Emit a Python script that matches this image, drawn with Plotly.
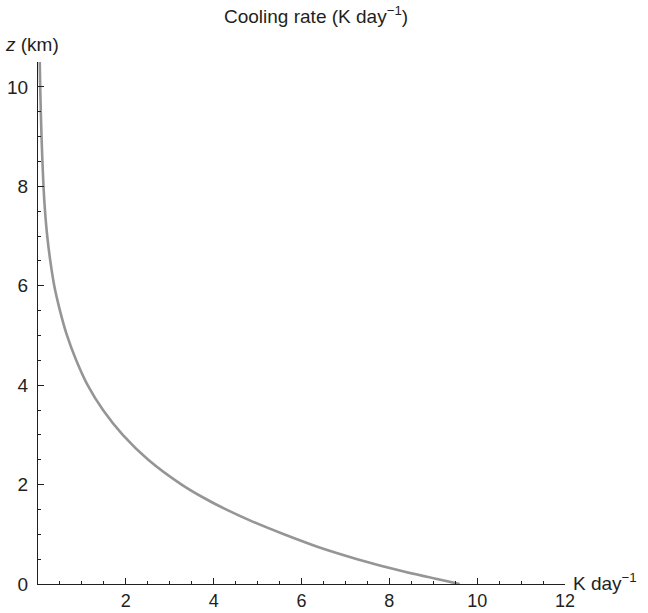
import plotly.graph_objects as go

# Data
height_km = [0, 0.25, 0.5, 0.75, 1.0, 1.25, 1.5, 1.75, 2.0, 2.5, 3.0, 3.5, 4.0,
             4.5, 5.0, 5.5, 6.0, 6.5, 7.0, 7.5, 8.0, 9.0, 10.0, 10.5]
cooling_rate = [9.6, 8.33, 7.27, 6.36, 5.6, 4.9, 4.28, 3.74, 3.27, 2.51, 1.93, 1.48, 1.13,
                0.87, 0.66, 0.5, 0.37, 0.28, 0.21, 0.16, 0.125, 0.08, 0.05, 0.04]
x_ticks = [2, 4, 6, 8, 10, 12]
y_ticks = [0, 2, 4, 6, 8, 10]

FONT = "Liberation Sans, Arial, Helvetica, sans-serif"
INK = "#231f20"

fig = go.Figure()
fig.add_trace(go.Scatter(
    x=cooling_rate, y=height_km, mode="lines",
    line=dict(color="#959595", width=2.6, shape="spline", smoothing=0.8),
    showlegend=False, hoverinfo="skip",
))

fig.update_layout(
    width=648, height=613,
    margin=dict(l=38, r=83, t=62, b=29, autoexpand=False),
    paper_bgcolor="white", plot_bgcolor="white",
    font=dict(family=FONT, size=19, color=INK),
    xaxis=dict(
        range=[0, 12], tickvals=x_ticks, ticks="inside", ticklen=6, tickwidth=1.2,
        tickcolor=INK, showline=True, linecolor=INK, linewidth=1.3,
        showgrid=False, zeroline=False, automargin=False,
        minor=dict(dtick=0.5, tick0=0, ticks="inside", ticklen=3, tickwidth=1,
                   tickcolor=INK, showgrid=False),
        tickfont=dict(size=18), ticklabelstandoff=0,
    ),
    yaxis=dict(
        range=[0, 10.5], tickvals=y_ticks, ticks="inside", ticklen=6, tickwidth=1.2,
        tickcolor=INK, showline=True, linecolor=INK, linewidth=1.3,
        showgrid=False, zeroline=False, automargin=False,
        minor=dict(dtick=0.5, tick0=0, ticks="inside", ticklen=3, tickwidth=1,
                   tickcolor=INK, showgrid=False),
        tickfont=dict(size=19), ticklabelstandoff=5,
    ),
    annotations=[
        dict(text="Cooling rate (K day<sup>−1</sup>)", xref="paper", yref="paper",
             x=0.528, y=1.0, yshift=62 - 15, xanchor="center", yanchor="middle",
             showarrow=False, font=dict(size=19)),
        dict(text="<i>z</i> (km)", xref="paper", yref="paper",
             x=0, xshift=-35, y=1.0, yshift=18, xanchor="left", yanchor="middle",
             showarrow=False, font=dict(size=19)),
        dict(text="K day<sup>−1</sup>", xref="paper", yref="paper",
             x=1.0, xshift=6, y=0, yshift=2, xanchor="left", yanchor="middle",
             showarrow=False, font=dict(size=19)),
    ],
)

fig.write_html("out.html")
